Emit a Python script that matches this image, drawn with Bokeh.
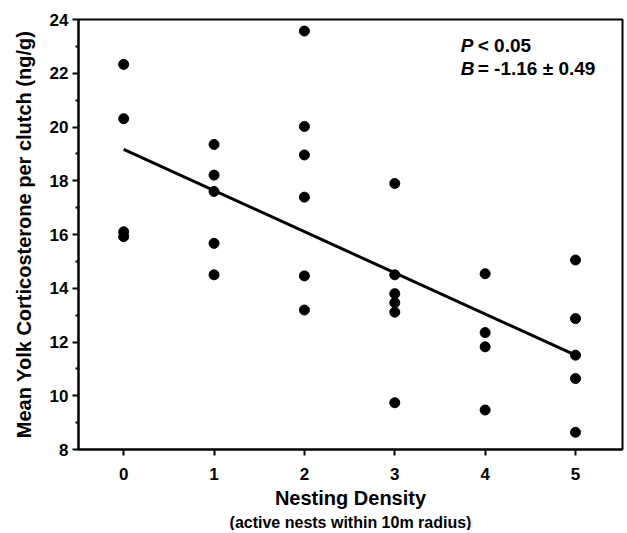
from bokeh.plotting import figure
from bokeh.models import FixedTicker, Label, Range1d, Title
from bokeh.embed import file_html
from bokeh.resources import INLINE

# Data
density = [0, 0, 0, 0,
           1, 1, 1, 1, 1,
           2, 2, 2, 2, 2, 2,
           3, 3, 3, 3, 3, 3,
           4, 4, 4, 4,
           5, 5, 5, 5, 5]
corticosterone = [22.33, 20.31, 16.10, 15.92,
                  19.35, 18.21, 17.60, 15.67, 14.50,
                  23.57, 20.02, 18.96, 17.39, 14.46, 13.19,
                  17.90, 14.50, 13.80, 13.46, 13.11, 9.74,
                  14.54, 12.35, 11.82, 9.47,
                  15.05, 12.87, 11.51, 10.64, 8.64]
fit_x = [0, 5]
fit_y = [19.17, 11.51]

x_ticks = [0, 1, 2, 3, 4, 5]
y_ticks = [8, 10, 12, 14, 16, 18, 20, 22, 24]
y_minor = [9, 11, 13, 15, 17, 19, 21, 23]

FONT = "Liberation Sans"

p = figure(width=624, height=530, output_backend="svg", toolbar_location=None,
           x_range=Range1d(-0.5, 5.52), y_range=Range1d(8, 24),
           min_border_left=78, min_border_right=2, min_border_top=19,
           min_border_bottom=60)
p.grid.visible = False
p.outline_line_color = "black"
p.outline_line_width = 2
p.background_fill_color = "white"
p.border_fill_color = "white"

p.line(fit_x, fit_y, line_color="black", line_width=3)
p.scatter(density, corticosterone, size=10, fill_color="black", line_color="black")

for ax in (p.xaxis[0], p.yaxis[0]):
    ax.axis_line_width = 2
    ax.axis_line_color = "black"
    ax.major_tick_line_width = 2
    ax.major_tick_line_color = "black"
    ax.minor_tick_line_width = 2
    ax.minor_tick_line_color = "black"
    ax.major_tick_out = 6
    ax.major_tick_in = 0
    ax.major_label_text_font = FONT
    ax.major_label_text_font_style = "bold"
    ax.major_label_text_font_size = "17px"
    ax.major_label_text_color = "black"
    ax.axis_label_text_font = FONT
    ax.axis_label_text_font_style = "bold"
    ax.axis_label_text_color = "black"

p.xaxis[0].ticker = FixedTicker(ticks=x_ticks)
p.xaxis[0].minor_tick_out = 0
p.xaxis[0].major_label_standoff = 12
p.xaxis[0].axis_label = "Nesting Density"
p.xaxis[0].axis_label_text_font_size = "20px"
p.xaxis[0].axis_label_standoff = 4

p.add_layout(Title(text="(active nests within 10m radius)", align="center",
                   text_font=FONT, text_font_style="bold", text_font_size="16px",
                   text_color="black", standoff=0, offset=0), "below")

p.yaxis[0].ticker = FixedTicker(ticks=y_ticks, minor_ticks=y_minor)
p.yaxis[0].minor_tick_out = 3
p.yaxis[0].minor_tick_in = 0
p.yaxis[0].major_label_standoff = 4
p.yaxis[0].axis_label = "Mean Yolk Corticosterone per clutch (ng/g)"
p.yaxis[0].axis_label_text_font_size = "20px"
p.yaxis[0].axis_label_standoff = 12

# statistics annotation
p.add_layout(Label(x=3.73, y=23.04, text="P", text_font=FONT, text_font_style="bold italic",
                   text_font_size="19px", text_baseline="middle", text_color="black"))
p.add_layout(Label(x=3.73, y=23.04, x_offset=17, text="< 0.05", text_font=FONT,
                   text_font_style="bold", text_font_size="19px", text_baseline="middle",
                   text_color="black"))
p.add_layout(Label(x=3.73, y=22.17, text="B", text_font=FONT, text_font_style="bold italic",
                   text_font_size="19px", text_baseline="middle", text_color="black"))
p.add_layout(Label(x=3.73, y=22.17, x_offset=17, text="= -1.16 ± 0.49", text_font=FONT,
                   text_font_style="bold", text_font_size="19px", text_baseline="middle",
                   text_color="black"))

open("out.html", "w").write(file_html(p, INLINE))
